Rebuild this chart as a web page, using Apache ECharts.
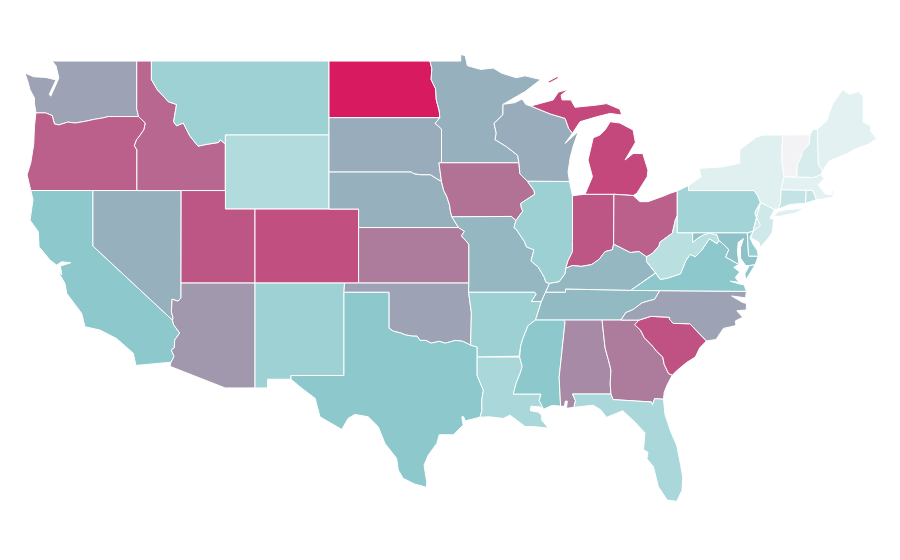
<!DOCTYPE html>
<html>
<head>
<meta charset="utf-8">
<style>
  html, body { margin: 0; padding: 0; background: #fff; }
  #main { width: 900px; height: 560px; }
</style>
<script src="https://cdn.jsdelivr.net/npm/echarts@6/dist/echarts.min.js"></script>
</head>
<body>
<div id="main"></div>
<script>
var stateNames = ['WA','OR','CA','NV','ID','MT','WY','UT','AZ','CO','NM','ND','SD','NE','KS','OK','TX',
  'MN','IA','MO','AR','LA','WI','IL','IN','MI','OH','KY','TN','MS','AL','GA','FL','SC','NC','VA','WV',
  'MD','DE','PA','NJ','NY','CT','RI','MA','VT','NH','ME'];
var stateValues = [61,80,50,57,78,41.8,33,83,64,85,41.8,100,58,57,72,61,50,
  57,75,55,43,36.5,58,43,83,87,80,55,54,50,68,72,36.5,84,61,50,29,
  52,45,40,20,13.3,25,25,12.5,0,17,11.5];
var colorStops = ['#f3f3f5','#e2f1f2','#c3e3e5','#a8d6d8','#8cc8cc','#9f9db1','#b27296','#c5467b','#d81b60'];

// shared state borders, "west longitude,latitude"
var borders = {
  wa_n: '122.76,49 117.04,49',
  wa_id: '117.04,49 117.04,46.42 116.92,46',
  wa_or: '116.92,46 118.98,46 119.3,45.93 119.9,45.85 120.6,45.73 121.2,45.65 121.7,45.7 122.3,45.55 122.6,45.6 122.75,46.05 123.2,46.2 123.85,46.2',
  wa_coast: '123.85,46.2 123.95,46.7 123.95,47 124.25,47.45 124.4,47.9 124.6,48.35 124,48.15 123.35,48.12 123.1,48.1 122.5,47.98 122.95,47.2 122.85,47.1 122.4,47.9 122.3,48.1 122.5,48.75 122.76,49',
  or_id: '116.92,46 116.46,45.65 116.55,45.3 116.85,44.95 117.05,44.75 117.2,44.42 117.03,44.2 117.03,42',
  or_nv: '117.03,42 120,42',
  or_ca: '120,42 124.2,42',
  or_coast: '124.2,42 124.45,42.85 124.2,43.5 124,44.5 123.95,45.5 123.85,46.2',
  id_n: '117.04,49 116.05,49',
  id_mt: '116.05,49 116.05,48 115.65,47.45 114.9,46.8 114.35,46.65 114.55,45.72 114.35,45.5 113.9,45.65 113.45,44.95 112.9,44.4 112.3,44.5 111.5,44.6 111.4,44.75 111.05,44.5',
  id_wy: '111.05,44.5 111.05,42',
  id_ut: '111.05,42 114.04,42',
  id_nv: '114.04,42 117.03,42',
  mt_n: '116.05,49 104.05,49',
  mt_nd: '104.05,49 104.05,45.94',
  mt_sd: '104.05,45.94 104.05,45',
  mt_wy: '104.05,45 111.05,45 111.05,44.5',
  wy_sd: '104.05,45 104.05,43',
  wy_ne: '104.05,43 104.05,41',
  wy_co: '104.05,41 109.05,41',
  wy_ut: '109.05,41 111.05,41 111.05,42',
  nd_n: '104.05,49 97.23,49',
  nd_mn: '97.23,49 97.1,48.6 97.15,48 96.85,47.5 96.8,46.9 96.6,46.3 96.56,45.94',
  nd_sd: '96.56,45.94 104.05,45.94',
  sd_mn: '96.56,45.94 96.88,45.63 96.45,45.33 96.45,43.5',
  sd_ia: '96.45,43.5 96.62,43.5 96.45,42.49',
  sd_ne: '96.45,42.49 96.7,42.6 97.2,42.85 97.85,42.85 98.3,42.9 98.5,43 104.05,43',
  ne_ia: '96.45,42.49 96.3,42 96.1,41.7 95.9,41.2 95.85,40.9 95.75,40.58',
  ne_mo: '95.75,40.58 95.3,40',
  ne_ks: '95.3,40 102.05,40',
  ne_co: '102.05,40 102.05,41 104.05,41',
  co_ks: '102.05,40 102.05,37',
  co_ok: '102.05,37 103,37',
  co_nm: '103,37 109.05,37',
  co_ut: '109.05,37 109.05,41',
  ut_az: '109.05,37 114.05,37',
  ut_nv: '114.05,37 114.04,42',
  nv_az: '114.05,37 114.05,36.2 114.25,36.02 114.65,36.13 114.7,35.45 114.58,35.1 114.63,35',
  nv_ca: '114.63,35 120,39 120,42',
  ca_az: '114.63,35 114.55,34.75 114.14,34.3 114.48,33.92 114.5,33.5 114.7,33.38 114.52,33.03 114.72,32.72',
  ca_s: '114.72,32.72 117.1,32.55',
  ca_coast: '117.1,32.55 117.27,33.2 118.4,34 119.53,34.46 120.54,34.64 120.76,35.36 121.77,36.44 121.89,36.98 122.34,37.6 122.1,37.45 122.2,37.92 121.5,38.1 122.1,38.15 122.45,37.97 122.9,38.24 123.64,38.96 123.69,39.77 124.25,40.4 124.05,41.5 124.2,42',
  az_nm: '109.05,37 109.05,31.33',
  az_s: '109.05,31.33 111.07,31.33 114.8,32.5 114.72,32.72',
  nm_ok: '103,37 103.04,36.5',
  nm_tx: '103.04,36.5 103.04,32 106.62,32 106.62,31.8',
  nm_s: '106.62,31.8 108.2,31.8 108.2,31.33 109.05,31.33',
  ks_mo: '95.3,40 94.9,39.8 95.1,39.55 94.6,39.1 94.6,37',
  ks_ok: '94.6,37 102.05,37',
  ok_mo: '94.6,37 94.62,36.5',
  ok_ar: '94.62,36.5 94.43,35.4 94.48,33.64',
  ok_tx: '94.48,33.64 95,33.85 95.5,33.9 96.2,33.75 96.6,33.85 97.15,33.75 97.5,33.9 97.9,33.9 98.1,34.13 98.4,34.13 98.9,34.2 99.2,34.3 99.7,34.4 100,34.56 100,36.5 103.04,36.5',
  tx_ar: '94.48,33.64 94.04,33.55 94.04,33',
  tx_la: '94.04,33 94.04,32 93.62,31.2 93.73,30.68 93.72,30.1 93.85,29.75',
  tx_coast: '93.85,29.75 94.85,29.55 94.95,29.77 95.08,29.77 94.98,29.32 95.65,28.8 96.6,28.8 96.77,28.33 97.34,27.7 97.63,27.16 97.45,26.26 97.45,25.96 98.24,26.13 99.03,26.44 99.37,26.89 99.48,27.52 100.27,28.33 100.72,29.23 101.4,29.77 102.3,29.9 102.75,29.69 103.19,29.09 104.66,29.77 104.99,30.77 105.89,31.31 106.62,31.8',
  mn_n: '97.23,49 95.15,49 95.15,49.35 94.85,49.3 94.7,48.75 93.8,48.55 92.95,48.62 92.4,48.35 91.4,48.1 90.8,48.2 89.75,48',
  mn_sup: '89.75,48 90.8,47.35 92,46.8 92.29,46.66',
  mn_wi: '92.29,46.66 92.3,46.1 92.9,45.63 92.75,45.1 92.83,44.75 92.05,44.37 91.3,43.9 91.22,43.5',
  mn_ia: '91.22,43.5 96.45,43.5',
  ia_wi: '91.22,43.5 91.15,42.9 90.64,42.5',
  ia_il: '90.64,42.5 90.2,42 90.15,41.8 91.1,41.3 91.05,41.05 90.95,40.9 91.42,40.38',
  ia_mo: '91.42,40.38 91.73,40.6 95.75,40.58',
  mo_il: '91.42,40.38 91.55,40 91.4,39.9 90.85,39.25 90.7,38.95 90.2,38.8 90.4,38.2 89.9,37.85 89.5,37.3 89.4,37.05 89.15,36.98',
  mo_ky: '89.15,36.98 89.42,36.5',
  mo_tn: '89.42,36.5 89.7,36',
  mo_ar: '89.7,36 90.38,36 90.06,36.4 90.15,36.5 94.62,36.5',
  ar_tn: '89.7,36 90.1,35',
  ar_ms: '90.1,35 90.6,34.7 90.95,34 91.1,33.6 91.2,33.05 91.17,33',
  ar_la: '91.17,33 94.04,33',
  la_ms: '91.17,33 91,32.5 91.1,32.2 91.4,31.6 91.6,31 89.73,31 89.85,30.65 89.55,30.18',
  la_coast: '89.55,30.18 89.75,30.3 90.4,30.35 90.45,30.1 89.9,30.02 89.68,29.86 89.68,29.6 89.23,29.15 89.7,29.2 90.25,29.24 90.8,29.24 91.82,29.86 92.28,29.68 93.2,29.77 93.85,29.75',
  wi_sup: '92.29,46.66 91.5,46.75 91,46.95 90.75,46.65 90.42,46.57',
  wi_mi: '90.42,46.57 89.1,46.14 88.1,45.9 87.85,45.35 87.6,45.1',
  wi_lake: '87.6,45.1 88.1,44.55 87.2,45.2 87.55,44.4 87.75,43.8 87.9,43 87.8,42.49',
  wi_il: '87.8,42.49 90.64,42.5',
  il_lake: '87.8,42.49 87.6,41.72',
  il_in: '87.6,41.72 87.6,39.3 87.6,38.7 87.9,38.2 88.05,37.8',
  il_ky: '88.05,37.8 88.1,37.5 88.5,37.07 89.15,36.98',
  in_lake: '87.6,41.72 87.2,41.76 86.75,41.8',
  in_mi: '86.75,41.8 84.8,41.8',
  in_oh: '84.8,41.8 84.82,39.1',
  in_ky: '84.82,39.1 84.9,38.8 85.4,38.7 85.8,38.28 86.3,38 87,37.9 87.6,37.95 88.05,37.8',
  oh_mi: '84.8,41.8 83.5,41.73',
  oh_lake: '83.5,41.73 83.05,41.4 82.5,41.4 81.45,41.7 81,41.85 80.52,41.98',
  oh_pa: '80.52,41.98 80.52,40.64',
  oh_wv: '80.52,40.64 80.65,40.4 80.85,39.7 81.7,39.2 81.75,39 82.2,38.6 82.6,38.42',
  oh_ky: '82.6,38.42 83.1,38.7 83.7,38.65 84.2,38.85 84.82,39.1',
  ky_wv: '82.6,38.42 82.6,38.17 82,37.55 81.97,37.54',
  ky_va: '81.97,37.54 83.67,36.6',
  ky_tn: '83.67,36.6 85,36.62 86.5,36.65 88.07,36.67 88.07,36.5 89.42,36.5',
  tn_va: '83.67,36.6 81.7,36.59',
  tn_nc: '81.7,36.59 82.05,36.12 82.4,36.05 82.9,35.93 83.5,35.57 84,35.4 84.32,35',
  tn_ga: '84.32,35 85.6,35',
  tn_al: '85.6,35 88.2,35',
  tn_ms: '88.2,35 90.1,35',
  ms_al: '88.2,35 88.1,34.9 88.5,31.9 88.4,30.35',
  ms_coast: '88.4,30.35 89,30.38 89.55,30.18',
  al_ga: '85.6,35 85.4,33.5 85.18,32.87 85,32.3 85.05,31.55 85,31',
  al_fl: '85,31 87.6,31 87.4,30.65 87.5,30.28',
  al_coast: '87.5,30.28 88,30.23 87.95,30.62 88.08,30.62 88.15,30.33 88.4,30.35',
  ga_nc: '84.32,35 83.1,35',
  ga_sc: '83.1,35 83.4,34.75 83,34.45 82.75,34.05 82.2,33.6 81.9,33.3 81.5,33 81.4,32.6 81.1,32.1 80.85,32.03',
  ga_coast: '80.85,32.03 81.2,31.5 81.4,31.1 81.45,30.72',
  ga_fl: '81.45,30.72 82.05,30.75 82.2,30.4 82.25,30.57 84.86,30.7 85,31',
  fl_coast: '81.45,30.72 81.35,29.9 81,29.05 80.55,28.2 80.3,27.2 80.15,26.5 80.2,25.8 80.55,25.2 81.2,25.27 81.8,26 82.13,27.07 82.57,27.5 82.5,27.85 82.8,28 82.7,28.9 83.4,29.5 84.2,30.1 85.3,29.74 85.7,30.15 86.2,30.4 87.5,30.28',
  sc_nc: '83.1,35 82.3,35.2 81.05,35.15 81.05,35.05 80.8,34.82 79.67,34.8 78.55,33.87',
  sc_coast: '78.55,33.87 79,33.5 79.3,33 79.9,32.7 80.5,32.3 80.85,32.03',
  nc_va: '81.7,36.59 75.85,36.55',
  nc_coast: '75.85,36.55 75.9,36.2 76.85,36.3 76.1,35.95 75.85,35.9 75.85,35.55 76.5,35.5 76.1,35.15 76.6,34.95 76.55,34.7 77.4,34.55 77.9,33.95 78.55,33.87',
  va_wv: '81.97,37.54 81.68,37.2 81.25,37.25 80.3,37.5 79.95,38.2 79.65,38.55 79.3,38.42 78.87,38.77 78.35,39.4 77.83,39.13 77.72,39.32',
  va_md: '77.72,39.32 77.2,38.95 77.04,38.8 77.25,38.4 77,38.3 76.35,38',
  va_coast: '76.35,38 76.7,37.85 76.3,37.6 76.6,37.3 76.35,37.05 76.95,37.1 76.3,36.95 76,36.9 75.85,36.55',
  wv_pa: '80.52,40.64 80.52,39.72 79.48,39.72',
  wv_md: '79.48,39.72 79.48,39.2 79.05,39.47 78.75,39.6 78.35,39.7 77.83,39.6 77.72,39.32',
  md_pa: '79.48,39.72 75.79,39.72',
  md_de: '75.79,39.72 75.7,38.46 75.05,38.45',
  md_coast: '75.05,38.45 75.25,38 75.65,37.95 75.9,37.95 76.25,38.35 76.25,38.9 76.05,39.4 76.4,39.2 76.45,38.7 76.35,38',
  pa_lake: '80.52,41.98 79.76,42.27',
  pa_ny: '79.76,42.27 79.76,42 75.35,42 75.1,41.75 74.9,41.36',
  pa_nj: '74.9,41.36 75.25,40.85 75.25,40.7 74.9,40.1 75.4,39.8',
  pa_de: '75.4,39.8 75.79,39.72',
  de_coast: '75.4,39.8 75.6,39.45 75.4,39.1 75.1,38.75 75.05,38.45',
  nj_ny: '74.9,41.36 73.95,40.98',
  nj_coast: '73.95,40.98 74.25,40.5 74,40.45 74.1,39.75 74.4,39.4 74.9,38.93 75,39.2 75.55,39.45 75.4,39.8',
  ny_lake: '79.76,42.27 78.9,42.75 79.05,43.2 77.6,43.27 76.3,43.47 76.3,44.2 75.15,44.9 74.7,45 73.4,45',
  ny_vt: '73.4,45 73.45,44 73.45,43.6 73.3,42.75',
  ny_ma: '73.3,42.75 73.5,42.05',
  ny_ct: '73.5,42.05 73.55,41.3 73.7,41',
  ny_sound: '73.7,41 73.95,40.98',
  ct_ma: '73.5,42.05 71.8,42.02',
  ct_ri: '71.8,42.02 71.85,41.32',
  ct_coast: '71.85,41.32 72.9,41.25 73.7,41',
  ri_ma: '71.8,42.02 71.38,42.02 71.2,41.7 71.12,41.5',
  ri_coast: '71.12,41.5 71.85,41.32',
  ma_vt: '73.3,42.75 72.45,42.73',
  ma_nh: '72.45,42.73 71.9,42.72 71.3,42.7 70.8,42.87',
  ma_coast: '70.8,42.87 70.6,42.65 71,42.3 70.65,41.95 70.5,41.8 70,41.78 70.2,42.05 69.95,41.95 70,41.65 70.65,41.55 71.12,41.5',
  vt_n: '73.4,45 71.55,45.01',
  vt_nh: '71.55,45.01 71.6,44.5 72.1,44.1 72.1,43.9 72.4,43.4 72.45,42.73',
  nh_n: '71.55,45.01 71.35,45.3 71.05,45.3',
  nh_me: '71.05,45.3 70.98,43.4 70.7,43.07',
  nh_coast: '70.7,43.07 70.8,42.87',
  me_out: '71.05,45.3 70.4,45.8 70.25,46.2 70,46.7 69.35,47.45 68.9,47.2 68.3,47.35 67.95,47.1 67.95,45.7 67.45,45.5 67.45,45.2 67.05,44.82 67.6,44.5 68.5,44.25 69,44 69.8,43.75 70.25,43.6 70.7,43.07',
  mi_up: '90.42,46.57 88.9,46.9 88.56,47.32 87.88,47.47 88.37,47.16 88.3,46.9 87.7,46.9 87.43,46.5 85.96,46.62 85.3,46.7 84.4,46.4 84.27,46.08 85.05,46.17 85.96,45.99 87.09,45.72 87.6,45.1',
  mi_lake: '86.75,41.8 86.25,42.75 86.55,43.65 86.2,44.85 85.75,45 85.4,45.27 85.05,45.72 84.4,45.65 83.5,45.27 83.35,44.6 84.05,43.65 83.5,44 82.85,44 82.5,43.1 82.55,42.75 83.25,41.85 83.5,41.73',
  isle_royale: '89.25,47.9 88.55,48.2 88.6,48.05 89.2,47.8',
  delmarva_va: '75.65,37.95 75.25,38 75.9,37.15 75.95,37.5',
  long_island: '74,40.62 73.6,40.6 72.5,40.8 71.9,41.05 72.6,41 73.1,40.97 73.7,40.87'
};

// ring of each state, "-x" runs border x backwards; a second entry is an island
var rings = {
  WA: ['wa_n wa_id wa_or wa_coast'],
  OR: ['-wa_or or_id or_nv or_ca or_coast'],
  CA: ['-or_ca -nv_ca ca_az ca_s ca_coast'],
  NV: ['-or_nv -id_nv -ut_nv nv_az nv_ca'],
  ID: ['id_n id_mt id_wy id_ut id_nv -or_id -wa_id'],
  MT: ['mt_n mt_nd mt_sd mt_wy -id_mt'],
  WY: ['-mt_wy wy_sd wy_ne wy_co wy_ut id_wy'],
  UT: ['-id_ut -wy_ut -co_ut ut_az ut_nv'],
  AZ: ['-ut_az az_nm az_s -ca_az -nv_az'],
  CO: ['-wy_co -ne_co co_ks co_ok co_nm co_ut'],
  NM: ['-co_nm nm_ok nm_tx nm_s -az_nm'],
  ND: ['nd_n nd_mn nd_sd -mt_nd'],
  SD: ['-nd_sd sd_mn sd_ia sd_ne -wy_sd -mt_sd'],
  NE: ['-sd_ne ne_ia ne_mo ne_ks ne_co -wy_ne'],
  KS: ['-ne_ks ks_mo ks_ok -co_ks'],
  OK: ['-co_ok -ks_ok ok_mo ok_ar ok_tx -nm_ok'],
  TX: ['-ok_tx tx_ar tx_la tx_coast -nm_tx'],
  MN: ['mn_n mn_sup mn_wi mn_ia -sd_mn -nd_mn'],
  IA: ['-mn_ia ia_wi ia_il ia_mo -ne_ia -sd_ia'],
  MO: ['-ia_mo mo_il mo_ky mo_tn mo_ar -ok_mo -ks_mo -ne_mo'],
  AR: ['-mo_ar ar_tn ar_ms ar_la -tx_ar -ok_ar'],
  LA: ['-ar_la la_ms la_coast -tx_la'],
  WI: ['wi_sup wi_mi wi_lake wi_il -ia_wi -mn_wi'],
  IL: ['-wi_il il_lake il_in il_ky -mo_il -ia_il'],
  IN: ['in_lake in_mi in_oh in_ky -il_in'],
  MI: ['mi_lake -oh_mi -in_mi', '-wi_mi mi_up', 'isle_royale'],
  OH: ['oh_mi oh_lake oh_pa oh_wv oh_ky -in_oh'],
  KY: ['-il_ky -in_ky -oh_ky ky_wv ky_va ky_tn -mo_ky'],
  TN: ['-ky_tn tn_va tn_nc tn_ga tn_al tn_ms -ar_tn -mo_tn'],
  MS: ['-tn_ms ms_al ms_coast -la_ms -ar_ms'],
  AL: ['-tn_al al_ga al_fl al_coast -ms_al'],
  GA: ['-tn_ga ga_nc ga_sc ga_coast ga_fl -al_ga'],
  FL: ['-al_fl -ga_fl fl_coast'],
  SC: ['-ga_sc sc_nc sc_coast'],
  NC: ['-tn_nc nc_va nc_coast -sc_nc -ga_nc'],
  VA: ['-ky_va va_wv va_md va_coast -nc_va -tn_va', 'delmarva_va'],
  WV: ['-oh_wv wv_pa wv_md -va_wv -ky_wv'],
  MD: ['md_pa md_de md_coast -va_md -wv_md'],
  DE: ['-pa_de de_coast -md_de'],
  PA: ['pa_lake pa_ny pa_nj pa_de -md_pa -wv_pa -oh_pa'],
  NJ: ['-pa_nj -nj_coast -nj_ny'],
  NY: ['ny_lake ny_vt ny_ma ny_ct ny_sound -nj_ny -pa_ny', 'long_island'],
  CT: ['ct_ma ct_ri ct_coast -ny_ct'],
  RI: ['ri_ma ri_coast -ct_ri'],
  MA: ['-ny_ma ma_vt ma_nh ma_coast -ri_ma -ct_ma'],
  VT: ['vt_n vt_nh -ma_vt -ny_vt'],
  NH: ['nh_n nh_me nh_coast -ma_nh -vt_nh'],
  ME: ['me_out -nh_me']
};

var parseBorder = function (name) {
  var reversed = name.charAt(0) === '-';
  var pts = borders[reversed ? name.slice(1) : name].split(' ').map(function (p) {
    var v = p.split(',');
    return [-parseFloat(v[0]), parseFloat(v[1])];
  });
  return reversed ? pts.reverse() : pts;
};

var buildRing = function (spec) {
  var res = [];
  spec.split(' ').forEach(function (name) {
    res = res.concat(parseBorder(name));
  });
  res.push(res[0]);
  return res;
};

var usaJson = {
  type: 'FeatureCollection',
  features: stateNames.map(function (name) {
    return {
      type: 'Feature',
      properties: { name: name },
      geometry: {
        type: 'MultiPolygon',
        coordinates: rings[name].map(function (spec) { return [buildRing(spec)]; })
      }
    };
  })
};

echarts.registerMap('usa', usaJson);
var chart = echarts.init(document.getElementById('main'), null, { renderer: 'canvas' });
chart.setOption({
  backgroundColor: '#fff',
  animation: false,
  visualMap: {
    show: false,
    type: 'continuous',
    min: 0,
    max: 100,
    inRange: { color: colorStops }
  },
  series: [{
    type: 'map',
    map: 'usa',
    roam: false,
    silent: true,
    aspectScale: 0.8,
    boundingCoords: [[-126.28, 52.3], [-65.47, 22.03]],
    left: 0,
    top: 0,
    right: 0,
    bottom: 0,
    label: { show: false },
    itemStyle: { borderColor: '#fff', borderWidth: 1 },
    data: stateNames.map(function (name, i) {
      return { name: name, value: stateValues[i] };
    })
  }]
});
</script>
</body>
</html>
